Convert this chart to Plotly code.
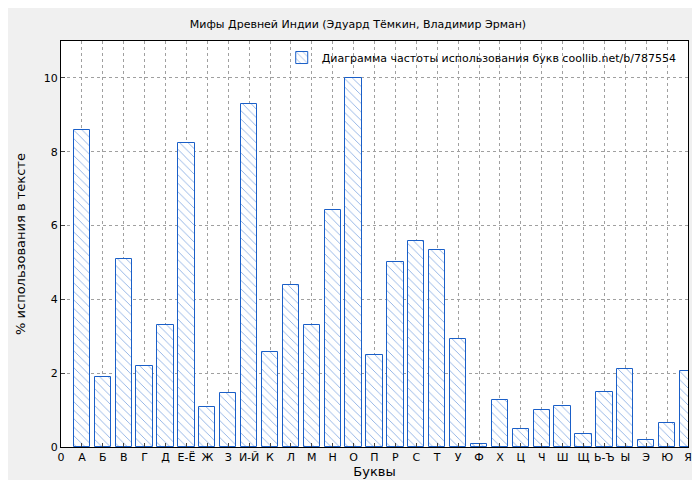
import plotly.graph_objects as go

letters = ["А","Б","В","Г","Д","Е-Ё","Ж","З","И-Й","К","Л","М","Н","О","П","Р","С","Т","У","Ф","Х","Ц","Ч","Ш","Щ","Ь-Ъ","Ы","Э","Ю","Я"]
values = [8.6,1.9,5.1,2.2,3.3,8.25,1.08,1.45,9.3,2.57,4.38,3.3,6.43,10.0,2.5,5.0,5.57,5.33,2.92,0.07,1.27,0.5,1.0,1.1,0.35,1.5,2.1,0.18,0.65,2.05]
positions = list(range(1, len(letters)+1))
tick_vals = [0] + positions
tick_text = ["0"] + letters

fig = go.Figure(go.Bar(
    x=positions, y=values, width=0.78,
    marker=dict(color="white", line=dict(color="#1a5fc8", width=1),
                pattern=dict(shape="\\", fgcolor="#1a5fc8", bgcolor="white", size=6, solidity=0.15)),
    name="Диаграмма частоты использования букв coollib.net/b/787554", showlegend=True))

fig.update_layout(
    width=700, height=480, paper_bgcolor="#f0f0f0", plot_bgcolor="white",
    margin=dict(l=53, r=20, t=33, b=41),
    font=dict(family="DejaVu Sans", size=11, color="black"),
    title=dict(text="Мифы Древней Индии (Эдуард Тёмкин, Владимир Эрман)", x=0.5, y=0.975, xanchor="center", font=dict(size=11)),
    legend=dict(x=0.99, y=0.995, xanchor="right", yanchor="top", bgcolor="rgba(255,255,255,0)", font=dict(size=11)),
    bargap=0,
)
fig.update_xaxes(range=[0, 30], tickvals=tick_vals, ticktext=tick_text, showgrid=True,
                 gridcolor="#a0a0a0", griddash="dot", showline=True, linecolor="black", mirror=True,
                 ticks="inside", ticklen=4, title=dict(text="Буквы", standoff=2))
fig.update_yaxes(range=[0, 11], dtick=2, showgrid=True, gridcolor="#a0a0a0", griddash="dot",
                 showline=True, linecolor="black", mirror=True, ticks="inside", ticklen=4,
                 title=dict(text="% использования в тексте"), zeroline=False)
fig.write_html("out.html")
